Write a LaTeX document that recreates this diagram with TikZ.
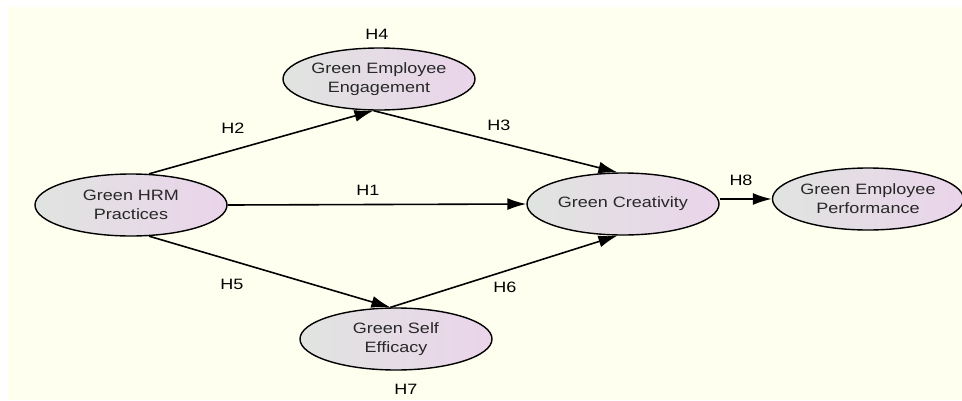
\documentclass[tikz,border=0pt]{standalone}
\usepackage{fontspec}
\setmainfont[FakeStretch=1.2]{Liberation Sans}
\usepackage{tikz}
\usetikzlibrary{arrows.meta,shapes.geometric}

\definecolor{bgivory}{RGB}{255,255,240}
\definecolor{fillgrey}{RGB}{224,228,224}
\definecolor{fillpink}{RGB}{234,212,234}
\definecolor{textgrey}{RGB}{40,40,40}

\tikzset{
  construct/.style={ellipse, draw=black, line width=1.4pt, minimum width=192pt,
    minimum height=62pt, inner sep=0pt, left color=fillgrey, right color=fillpink,
    align=center, text=textgrey, font=\fontsize{15}{19}\selectfont},
  effect/.style={line width=1.6pt, -{Latex[length=19pt,width=12pt]}},
  hlabel/.style={font=\fontsize{15}{16}\selectfont, text=black}
}

\begin{document}
\begin{tikzpicture}[x=1pt, y=-1pt]
        % Hintergrund
        \useasboundingbox (0,0) rectangle (962,400);
        \fill[bgivory] (8,7) rectangle (962,400);

        % Konstrukte
        \node[construct] (hrm) at (131,205) {Green HRM\\Practices};
        \node[construct] (engage) at (379,79) {Green Employee\\Engagement};
        \node[construct] (creat) at (623,204) {Green Creativity};
        \node[construct, minimum width=186pt] (perform) at (868,199) {Green Employee\\Performance};
        \node[construct] (efficacy) at (396,339) {Green Self\\Efficacy};

        % Pfade
        \draw[effect] (hrm.60) -- (engage.-100);
        \draw[effect] (engage.-100) -- (creat.100);
        \draw[effect] (hrm.east) -- (creat.west);
        \draw[effect] (hrm.-60) -- (efficacy.100);
        \draw[effect] (efficacy.100) -- (creat.-100);
        \draw[effect] (creat.east |- perform.west) -- (perform.west);

        % Hypothesen
        \node[hlabel] (h1) at (368,190) {H1};
        \node[hlabel] (h2) at (233,128) {H2};
        \node[hlabel] (h3) at (499,125) {H3};
        \node[hlabel] (h4) at (377,34) {H4};
        \node[hlabel] (h5) at (232,284) {H5};
        \node[hlabel] (h6) at (505,287) {H6};
        \node[hlabel] (h7) at (406,389) {H7};
        \node[hlabel] (h8) at (741,180) {H8};
\end{tikzpicture}
\end{document}
